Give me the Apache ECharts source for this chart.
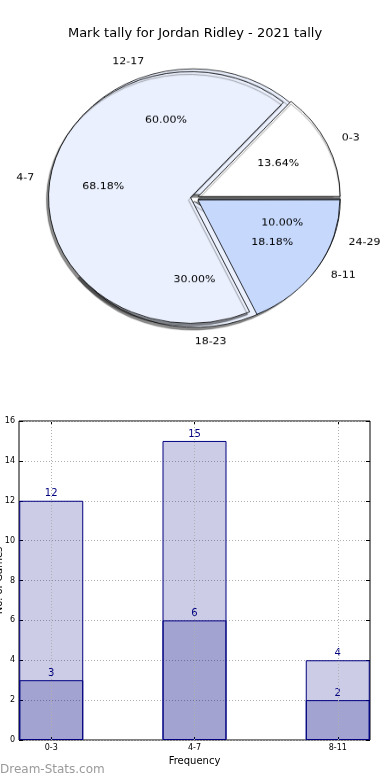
<!DOCTYPE html>
<html>
<head>
<meta charset="utf-8">
<script src="https://cdn.jsdelivr.net/npm/echarts@6/dist/echarts.min.js"></script>
<style>
html,body{margin:0;padding:0;background:#fff;}
#bar{position:absolute;left:0;top:0;width:390px;height:780px;}
#pie{position:absolute;left:0;top:0;width:390px;height:400px;transform:scaleY(0.886);transform-origin:0 198px;}
</style>
</head>
<body>
<div id="bar"></div>
<div id="pie"></div>
<script>
// ---- data ----
const titleText = 'Mark tally for Jordan Ridley - 2021 tally';
const pieCatsA = ['0-3', '4-7', '8-11'];
const pieValsA = [3, 15, 4];
const pieCatsB = ['12-17', '18-23', '24-29'];
const pieValsB = [6, 3, 1];
const barCats = ['0-3', '4-7', '8-11'];
const barTotals = [12, 15, 4];
const barParts = [3, 6, 2];
const xLabel = 'Frequency';
const yLabel = 'No. of Games';
const watermark = 'Dream-Stats.com';

// ---- styles ----
const pieColorsA = ['#ffffff', '#eaf0fd', '#c6d9fd'];
const pieColorsB = ['#eaf0fd', '#eaf0fd', '#c6d9fd'];
const SH = 'rgba(0,0,0,0.45)';
const shadowDiag = { shadowColor: SH, shadowBlur: 1, shadowOffsetX: -2, shadowOffsetY: 3 };
const shadowDown = { shadowColor: SH, shadowBlur: 1, shadowOffsetX: 0, shadowOffsetY: 3 };
const noShadow = { shadowBlur: 0, shadowOffsetX: 0, shadowOffsetY: 0, shadowColor: 'rgba(0,0,0,0)' };
const shadowsA = [shadowDown, shadowDiag, noShadow];
const shadowsB = [shadowDiag, shadowDiag, shadowDiag];

const FONT = 'DejaVu Sans';
const C = [194.5, 198];
const R = 142;

function pieData(cats, vals, colors, shadows, transparent) {
  return cats.map((c, i) => ({
    name: c, value: vals[i], selected: true,
    itemStyle: transparent ? Object.assign({ color: 'rgba(0,0,0,0)', borderWidth: 0 }, noShadow)
                           : Object.assign({ color: colors[i], borderColor: '#000', borderWidth: 0.8 }, shadows[i])
  }));
}
const pctFmt = p => p.percent.toFixed(2) + '%';
function baseSeries() {
  return {
    type: 'pie', center: C, clockwise: false, startAngle: 0.05,
    selectedMode: 'multiple', selectedOffset: 4, avoidLabelOverlap: false,
    animation: false, emphasis: { disabled: true }, percentPrecision: 2
  };
}
const outsideLabel = { show: true, position: 'outside', distanceToLabelLine: 0, color: '#000', fontFamily: FONT, fontSize: 11 };
const outsideLine = { show: false, length: 16, length2: 0 };
const insideLabel = { show: true, position: 'inside', formatter: pctFmt, color: '#000', fontFamily: FONT, fontSize: 11 };

const pie = echarts.init(document.getElementById('pie'), null, { renderer: 'canvas' });
pie.setOption({
  backgroundColor: 'transparent',
  series: [
    Object.assign(baseSeries(), {
      radius: R, z: 1,
      data: pieData(pieCatsB, pieValsB, pieColorsB, shadowsB, false),
      label: outsideLabel, labelLine: outsideLine
    }),
    Object.assign(baseSeries(), {
      radius: R, z: 2,
      data: pieData(pieCatsA, pieValsA, pieColorsA, shadowsA, false),
      label: outsideLabel, labelLine: outsideLine
    }),
    Object.assign(baseSeries(), {
      radius: R * 1.2, z: 3, silent: true,
      data: pieData(pieCatsB, pieValsB, pieColorsB, shadowsB, true),
      label: insideLabel, labelLine: { show: false }
    }),
    Object.assign(baseSeries(), {
      radius: R * 1.2, z: 3, silent: true,
      data: pieData(pieCatsA, pieValsA, pieColorsA, shadowsA, true),
      label: insideLabel, labelLine: { show: false }
    })
  ]
});

const NAVY = '#000080';
const GRIDC = '#b0b0b0';
const bar = echarts.init(document.getElementById('bar'), null, { renderer: 'canvas' });
const xs = barCats.map((c, i) => i);
bar.setOption({
  backgroundColor: '#fff',
  animation: false,
  title: {
    text: titleText, left: 'center', top: 22,
    textStyle: { fontFamily: FONT, fontSize: 13, fontWeight: 'normal', color: '#000' }
  },
  graphic: [{
    type: 'text', left: 0, top: 764,
    style: { text: watermark, fontFamily: FONT, fontSize: 12, fontWeight: 'normal', fill: '#9a9a9a' }
  }],
  grid: { left: 19, right: 20, top: 421, bottom: 40, outerBoundsMode: 'none', containLabel: false, show: true, borderColor: '#000', borderWidth: 1, backgroundColor: 'transparent' },
  xAxis: [{
    type: 'value', min: -0.225, max: 2.225,
    name: xLabel, nameLocation: 'middle', nameGap: 16,
    nameTextStyle: { fontFamily: FONT, fontSize: 10, color: '#000' },
    axisLine: { show: false, onZero: false },
    axisTick: { show: true, inside: true, length: 4, customValues: xs, lineStyle: { color: '#000' } },
    axisLabel: { show: true, customValues: xs, formatter: v => barCats[Math.round(v)], fontFamily: FONT, fontSize: 8, color: '#000', margin: 4 },
    splitLine: { show: false }
  }, {
    type: 'value', min: -0.225, max: 2.225, position: 'top',
    axisLine: { show: false, onZero: false },
    axisTick: { show: true, inside: true, length: 4, customValues: xs, lineStyle: { color: '#000' } },
    axisLabel: { show: false, customValues: xs },
    splitLine: { show: false }
  }],
  yAxis: [{
    type: 'value', min: 0, max: 16, interval: 2,
    name: yLabel, nameLocation: 'middle', nameGap: 15, nameMoveOverlap: false,
    nameTextStyle: { fontFamily: FONT, fontSize: 10, color: '#000' },
    axisLine: { show: false, onZero: false },
    axisTick: { show: true, inside: true, length: 4, lineStyle: { color: '#000' } },
    axisLabel: { fontFamily: FONT, fontSize: 8, color: '#000', margin: 4 },
    splitLine: { show: true, lineStyle: { color: GRIDC, type: [1, 2], width: 1 } }
  }, {
    type: 'value', min: 0, max: 16, interval: 2, position: 'right',
    axisLine: { show: false, onZero: false },
    axisTick: { show: true, inside: true, length: 4, lineStyle: { color: '#000' } },
    axisLabel: { show: false },
    splitLine: { show: false }
  }],
  series: [{
    type: 'line', data: [], silent: true, z: 1,
    markLine: {
      silent: true, symbol: 'none', label: { show: false },
      lineStyle: { color: GRIDC, type: [1, 2], width: 1 },
      data: xs.map(x => ({ xAxis: x }))
    }
  }, {
    type: 'bar', z: 2, barWidth: 64, barGap: '-100%',
    data: xs.map(i => [i, barTotals[i]]),
    itemStyle: { color: 'rgba(0,0,128,0.2)', borderColor: NAVY, borderWidth: 1 },
    label: { show: true, position: 'top', distance: 2, color: NAVY, fontFamily: FONT, fontSize: 10, formatter: p => p.value[1] }
  }, {
    type: 'bar', z: 3, barWidth: 64, barGap: '-100%',
    data: xs.map(i => [i, barParts[i]]),
    itemStyle: { color: 'rgba(0,0,128,0.2)', borderColor: NAVY, borderWidth: 1 },
    label: { show: true, position: 'top', distance: 2, color: NAVY, fontFamily: FONT, fontSize: 10, formatter: p => p.value[1] }
  }]
});
</script>
</body>
</html>
